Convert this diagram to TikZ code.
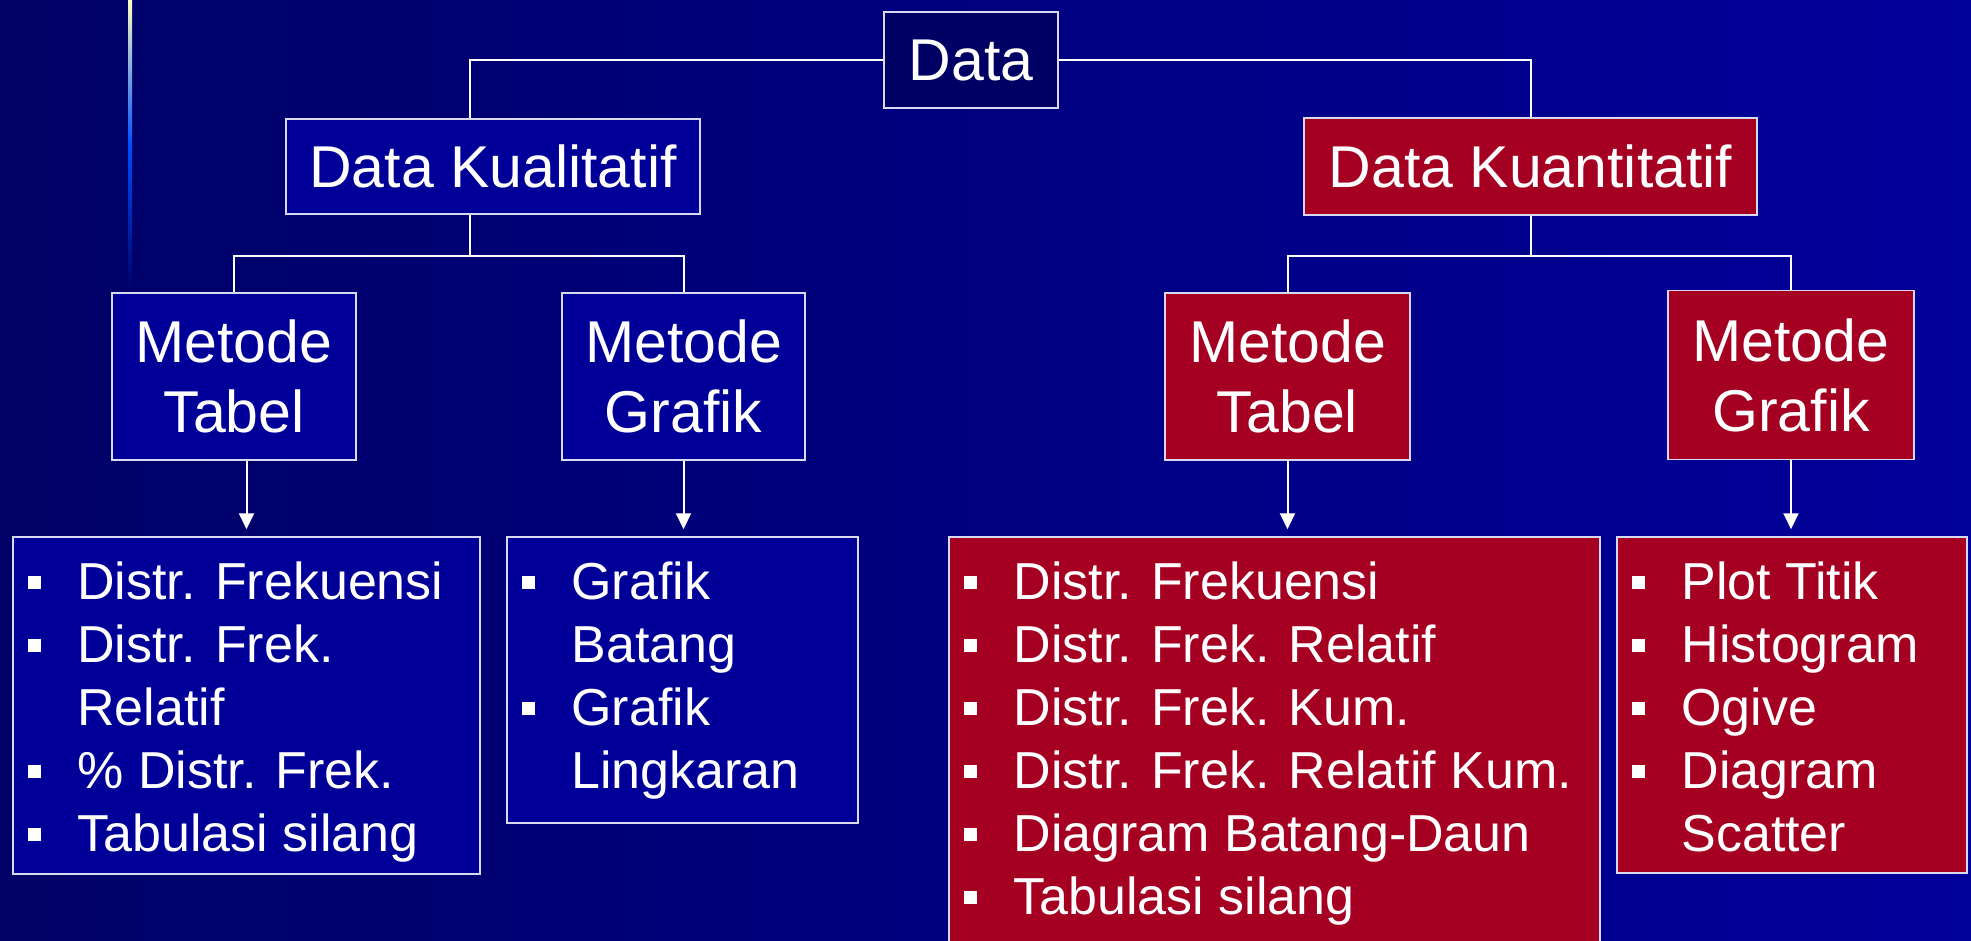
\documentclass[tikz,border=0pt]{standalone}
\usepackage{fontspec}
\setmainfont{Liberation Sans}
\usetikzlibrary{arrows.meta}

\definecolor{bgdark}{HTML}{000066}
\definecolor{bglight}{HTML}{00009A}
\definecolor{navybox}{HTML}{000064}
\definecolor{bluebox}{HTML}{000098}
\definecolor{redbox}{HTML}{A50021}
\definecolor{rimline}{HTML}{D8D8F0}

\newcommand\hdrfont{\fontsize{59}{70}\selectfont}
\newcommand\lstfont{\fontsize{52}{63}\selectfont}
\newcommand\itm{\strut\makebox[49pt][l]{\raisebox{11pt}{\rule{13pt}{13pt}}}}
\newcommand\cnt{\strut\hspace*{49pt}}

\begin{document}
\begin{tikzpicture}[
        x=1pt,y=-1pt,
        every node/.style={text=white,inner sep=0pt},
        hdr/.style={draw=rimline,line width=1.5pt,font=\hdrfont,align=center},
        blu/.style={hdr,fill=bluebox},
        red/.style={hdr,fill=redbox},
        listbox/.style={draw=rimline,line width=1.5pt},
        lst/.style={font=\lstfont,align=left,anchor=north west},
        conn/.style={draw=white,line width=2pt},
        arr/.style={conn,-{Triangle[length=16pt,width=15pt]},shorten >=7pt}]

    \useasboundingbox (0,0) rectangle (1971,940);
    \clip (0,0) rectangle (1971,940);
    \fill[left color=bgdark,right color=bglight] (0,0) rectangle (1971,940);
    \shade[top color=yellow!25!white,bottom color=bgdark,middle color=blue!70!cyan] (128,0) rectangle (132,290);

    \node[hdr,fill=navybox,minimum width=174,minimum height=96] (data) at (971,60) {Data};
    \node[blu,minimum width=414,minimum height=95] (kual) at (493,166.5) {Data Kualitatif};
    \node[red,minimum width=453,minimum height=97] (kuan) at (1530.5,166.5) {Data Kuantitatif};

    \node[blu,minimum width=244,minimum height=167] (tabA) at (234,376.5) {Metode\\Tabel};
    \node[blu,minimum width=243,minimum height=167] (grafA) at (683.5,376.5) {Metode\\Grafik};
    \node[red,minimum width=245,minimum height=167] (tabB) at (1287.5,376.5) {Metode\\Tabel};
    \node[red,minimum width=246,minimum height=169] (grafB) at (1791,375) {Metode\\Grafik};

    \draw[conn] (data.west) -| ([xshift=-23pt]kual.north);
    \draw[conn] (data.east) -| (kuan.north);
    \draw[conn] ([xshift=-23pt]kual.south) -- ([xshift=-23pt,yshift=-41pt]kual.south);
    \draw[conn] (tabA.north) |- ([xshift=-23pt,yshift=-41pt]kual.south) -| (grafA.north);
    \draw[conn] (kuan.south) -- ([yshift=-40pt]kuan.south);
    \draw[conn] (tabB.north) |- ([yshift=-40pt]kuan.south) -| (grafB.north);

    \node[listbox,fill=bluebox,minimum width=467,minimum height=337] (lstTabA) at (246.5,705.5) {};
    \node[listbox,fill=bluebox,minimum width=351,minimum height=286] (lstGrafA) at (682.5,680) {};
    \node[listbox,fill=redbox,minimum width=651,minimum height=413] (lstTabB) at (1274.5,743.5) {};
    \node[listbox,fill=redbox,minimum width=350,minimum height=336] (lstGrafB) at (1792,705) {};

    \draw[arr] (tabA.south -| lstTabA.north) -- (lstTabA.north);
    \draw[arr] (grafA.south) -- (grafA.south |- lstGrafA.north);
    \draw[arr] (tabB.south) -- (tabB.south |- lstTabB.north);
    \draw[arr] (grafB.south) -- (grafB.south |- lstGrafB.north);

    \node[lst] (txtTabA) at ([xshift=16pt,yshift=-19pt]lstTabA.north west)
        {\itm Distr. Frekuensi\\ \itm Distr. Frek.\\ \cnt Relatif\\ \itm \% Distr. Frek.\\ \itm Tabulasi silang};
    \node[lst] (txtGrafA) at ([xshift=16pt,yshift=-19pt]lstGrafA.north west)
        {\itm Grafik\\ \cnt Batang\\ \itm Grafik\\ \cnt Lingkaran};
    \node[lst] (txtTabB) at ([xshift=16pt,yshift=-19pt]lstTabB.north west)
        {\itm Distr. Frekuensi\\ \itm Distr. Frek. Relatif\\ \itm Distr. Frek. Kum.\\
         \itm Distr. Frek. Relatif Kum.\\ \itm Diagram Batang-Daun\\ \itm Tabulasi silang};
    \node[lst] (txtGrafB) at ([xshift=16pt,yshift=-19pt]lstGrafB.north west)
        {\itm Plot Titik\\ \itm Histogram\\ \itm Ogive\\ \itm Diagram\\ \cnt Scatter};

\end{tikzpicture}
\end{document}
